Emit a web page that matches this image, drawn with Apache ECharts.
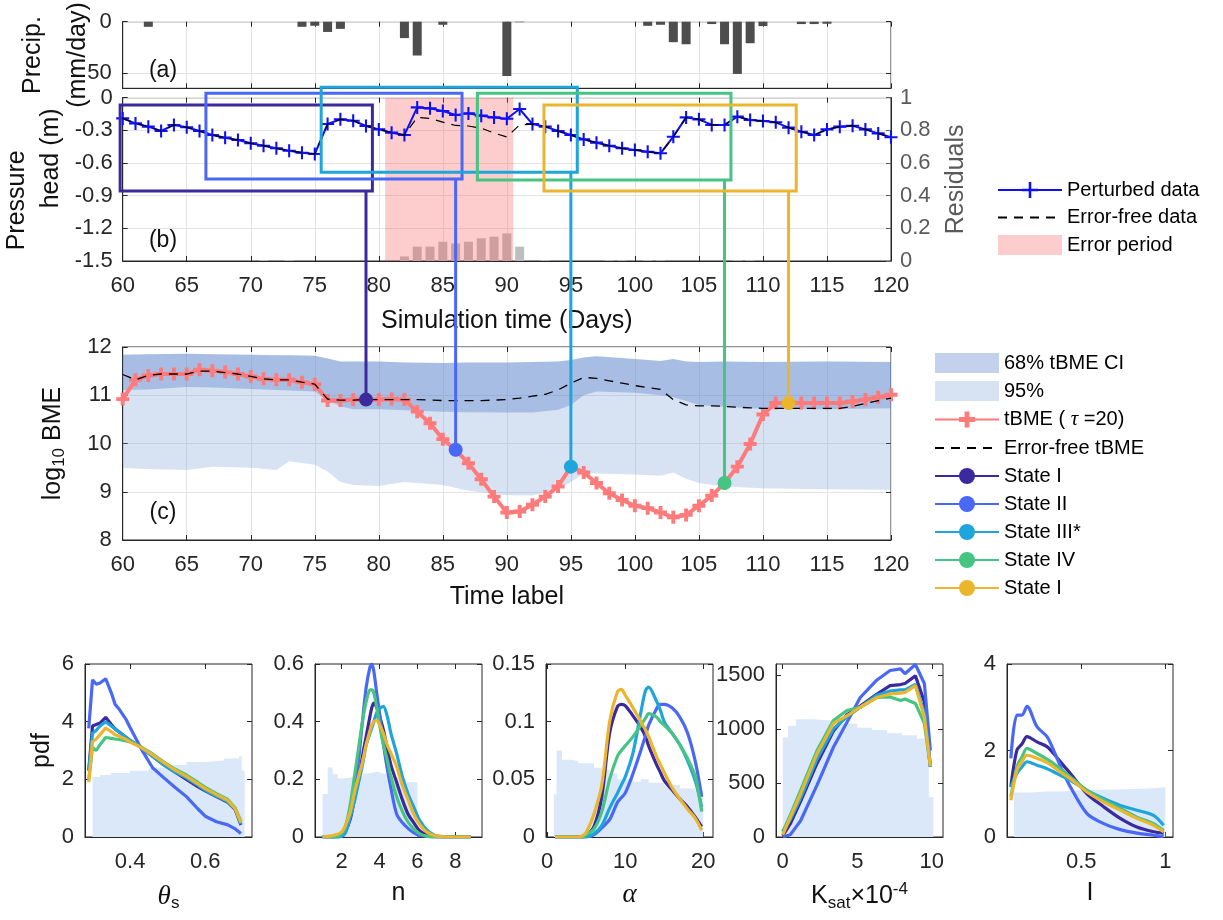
<!DOCTYPE html>
<html><head><meta charset="utf-8">
<script src="https://cdn.jsdelivr.net/npm/echarts@6.0.0/dist/echarts.min.js"></script>
<style>html,body{margin:0;padding:0;background:#fff}#c{width:1223px;height:920px}</style>
</head><body><div id="c"></div>
<script>
// ---------------- DATA ----------------
const days = [60,61,62,63,64,65,66,67,68,69,70,71,72,73,74,75,76,77,78,79,80,81,82,83,84,85,86,87,88,89,90,91,92,93,94,95,96,97,98,99,100,101,102,103,104,105,106,107,108,109,110,111,112,113,114,115,116,117,118,119,120];
const precipDays = [62,74,75,76,77,82,83,85,90,91,101,102,103,104,106,107,108,109,110,113,114,115];
const precipMm   = [5,5,4,10,7,16,33,3,53,0.5,4,3,20,22,2.3,22,51,21,4.3,2.3,2.3,2];
const pressurePerturbed = [-0.19,-0.236,-0.266,-0.306,-0.25,-0.272,-0.306,-0.343,-0.367,-0.389,
  -0.419,-0.441,-0.465,-0.487,-0.505,-0.517,-0.242,-0.199,-0.211,-0.26,
  -0.291,-0.321,-0.343,-0.089,-0.098,-0.122,-0.159,-0.144,-0.165,-0.181,
  -0.193,-0.104,-0.242,-0.266,-0.306,-0.343,-0.383,-0.413,-0.441,-0.465,
  -0.48,-0.496,-0.511,-0.358,-0.181,-0.199,-0.25,-0.25,-0.174,-0.205,
  -0.214,-0.226,-0.275,-0.312,-0.343,-0.291,-0.266,-0.257,-0.291,-0.328,-0.364];
const pressureErrorFree = [-0.19,-0.236,-0.266,-0.306,-0.25,-0.272,-0.306,-0.343,-0.367,-0.389,
  -0.419,-0.441,-0.465,-0.487,-0.505,-0.517,-0.242,-0.199,-0.211,-0.26,
  -0.291,-0.321,-0.343,-0.18,-0.19,-0.225,-0.255,-0.26,-0.28,-0.325,
  -0.36,-0.25,-0.242,-0.266,-0.306,-0.343,-0.383,-0.413,-0.441,-0.465,
  -0.48,-0.496,-0.511,-0.358,-0.181,-0.199,-0.25,-0.25,-0.174,-0.205,
  -0.214,-0.226,-0.275,-0.312,-0.343,-0.291,-0.266,-0.257,-0.291,-0.328,-0.364];
const residualDays = [71,73,82,83,84,85,86,87,88,89,90,91,93,98,99,101,102,108,109];
const residualVals = [0.005,0.005,0.028,0.088,0.088,0.118,0.108,0.118,0.139,0.149,0.169,0.088,0.005,0.005,0.005,0.005,0.005,0.005,0.005];
const errorPeriod = [80.5, 90.5];

const tbmeVals = [10.92,11.32,11.41,11.44,11.44,11.44,11.53,11.51,11.48,11.44,
  11.39,11.34,11.32,11.32,11.27,11.23,10.89,10.89,10.91,10.91,
  10.91,10.92,10.91,10.66,10.42,10.09,9.87,9.59,9.26,8.90,
  8.57,8.59,8.73,8.90,9.11,9.52,9.40,9.18,8.97,8.83,
  8.71,8.66,8.57,8.47,8.52,8.71,8.92,9.18,9.52,9.99,
  10.60,10.84,10.84,10.84,10.84,10.84,10.84,10.87,10.91,10.96,11.01];
const tbmeErrorFree = [11.43,11.32,11.41,11.44,11.44,11.44,11.50,11.50,11.47,11.44,
  11.39,11.34,11.32,11.32,11.27,11.23,10.92,10.90,10.90,10.91,
  10.91,10.91,10.91,10.91,10.90,10.89,10.89,10.89,10.89,10.90,
  10.91,10.94,10.98,11.02,11.11,11.25,11.37,11.35,11.30,11.25,
  11.20,11.16,11.12,10.91,10.80,10.78,10.78,10.77,10.75,10.74,
  10.73,10.73,10.73,10.73,10.73,10.73,10.73,10.77,10.83,10.89,10.94];
const bandDays  = [60,62,65,67,70,72,73,75,76,77,78,80,81,82,85,87,90,92,94,95,96,97,100,102,103,104,105,107,110,115,120];
const ciUpper   = [11.84,11.85,11.86,11.85,11.84,11.83,11.83,11.82,11.76,11.70,11.70,11.70,11.69,11.68,11.67,11.68,11.68,11.69,11.70,11.73,11.78,11.81,11.75,11.71,11.75,11.70,11.69,11.70,11.69,11.70,11.69];
const ci68Lower = [11.11,11.12,11.17,11.16,11.13,11.11,11.10,11.08,10.90,10.77,10.71,10.71,10.70,10.69,10.66,10.65,10.64,10.64,10.70,10.80,11.00,11.08,11.05,11.00,10.96,10.88,10.80,10.76,10.72,10.71,10.73];
const ci95Lower = [9.49,9.47,9.45,9.52,9.50,9.45,9.63,9.56,9.42,9.20,9.14,9.12,9.16,9.20,9.14,9.02,8.93,8.92,9.04,9.20,9.38,9.38,9.36,9.33,9.40,9.27,9.18,9.11,9.07,9.05,9.04];

const stateNames = ['State I','State II','State III*','State IV','State I '];
const stateDays  = [79,86,95,107,112];
const boxStart   = [59.8,66.5,75.5,87.7,92.9];
const boxEnd     = [79.5,86.5,95.5,107.5,112.6];
const boxTop     = [-0.067,0.04,0.095,0.04,-0.067];
const boxBottom  = [-0.857,-0.747,-0.685,-0.756,-0.857];

// posterior pdfs, rows: State I, State II, State III*, State IV, State I (yellow)
const thetaX = [0.29,0.30,0.31,0.32,0.335,0.35,0.36,0.37,0.39,0.40,0.43,0.46,0.49,0.52,0.55,0.58,0.60,0.63,0.66,0.68,0.695];
const thetaPdf = [
  [2.3,3.85,3.9,3.95,4.15,3.9,3.75,3.65,3.45,3.35,3.1,2.8,2.5,2.25,2.0,1.75,1.6,1.4,1.2,0.95,0.42],
  [3.77,5.45,5.3,5.34,5.49,5.0,4.6,4.45,4.06,3.8,3.05,2.4,2.05,1.72,1.40,0.98,0.72,0.53,0.42,0.28,0.12],
  [2.3,3.6,3.7,3.85,4.0,3.85,3.75,3.65,3.45,3.35,3.1,2.8,2.5,2.25,2.05,1.8,1.62,1.42,1.22,0.97,0.45],
  [2.0,3.1,3.0,3.2,3.45,3.42,3.4,3.38,3.33,3.3,3.12,2.88,2.6,2.35,2.15,1.9,1.72,1.5,1.3,1.0,0.55],
  [1.9,3.3,3.4,3.55,3.78,3.65,3.55,3.5,3.38,3.3,3.1,2.85,2.58,2.32,2.1,1.85,1.68,1.47,1.27,0.98,0.5]];
const thetaHistEdges = [0.3,0.32,0.35,0.4,0.45,0.5,0.55,0.6,0.65,0.69,0.697,0.705];
const thetaHist = [2.08,2.15,2.22,2.3,2.4,2.5,2.6,2.65,2.72,2.8,2.3];

const nX = [1.0,1.6,2.0,2.2,2.45,2.7,2.9,3.1,3.3,3.5,3.6,3.7,3.85,4.0,4.2,4.4,4.6,4.9,5.2,5.5,5.8,6.1,6.5,7.0,8.0,8.8];
const nPdf = [
  [0,0,0.005,0.02,0.06,0.14,0.2,0.28,0.35,0.42,0.45,0.464,0.45,0.42,0.372,0.31,0.25,0.19,0.13,0.08,0.05,0.023,0.007,0.001,0,0],
  [0,0,0.003,0.015,0.07,0.17,0.27,0.4,0.52,0.59,0.6,0.575,0.5,0.43,0.325,0.24,0.17,0.08,0.05,0.03,0.015,0.006,0.002,0,0,0],
  [0,0,0.003,0.015,0.07,0.13,0.19,0.25,0.32,0.36,0.38,0.4,0.43,0.445,0.453,0.42,0.36,0.29,0.21,0.15,0.104,0.06,0.025,0.004,0,0],
  [0,0,0.012,0.035,0.11,0.22,0.31,0.4,0.47,0.51,0.51,0.5,0.45,0.39,0.32,0.27,0.21,0.14,0.09,0.052,0.028,0.012,0.003,0,0,0],
  [0,0.006,0.017,0.04,0.085,0.16,0.21,0.26,0.32,0.37,0.39,0.4,0.405,0.39,0.36,0.32,0.29,0.245,0.18,0.13,0.08,0.045,0.017,0.003,0,0]];
const nHistEdges = [1.0,1.27,1.53,1.8,2.06,2.6,3.1,3.4,3.9,4.2,4.5,4.8,5.1,5.4,5.7,6.0];
const nHist = [0.149,0.241,0.218,0.203,0.207,0.21,0.22,0.226,0.22,0.215,0.21,0.205,0.2,0.19,0.19];

const alphaX = [1,2,3,4,4.5,5,6,7,8,9,9.5,10,11,12,12.6,13,14,14.5,15,16,17,18,19,19.8];
const alphaPdf = [
  [0,0,0,0,0,0.001,0.009,0.035,0.09,0.113,0.115,0.114,0.105,0.095,0.087,0.079,0.063,0.056,0.049,0.041,0.033,0.026,0.017,0.009],
  [0,0,0,0,0,0,0.002,0.008,0.015,0.03,0.034,0.038,0.055,0.075,0.088,0.097,0.111,0.115,0.115,0.112,0.104,0.09,0.065,0.035],
  [0,0,0,0,0,0,0.003,0.01,0.025,0.038,0.045,0.052,0.073,0.108,0.127,0.13,0.118,0.11,0.1,0.09,0.08,0.066,0.048,0.026],
  [0,0,0,0,0,0.002,0.007,0.022,0.05,0.07,0.075,0.079,0.087,0.097,0.103,0.107,0.104,0.1,0.097,0.09,0.08,0.068,0.052,0.022],
  [0,0,0,0,0.001,0.004,0.02,0.045,0.1,0.126,0.128,0.123,0.112,0.1,0.093,0.087,0.07,0.063,0.056,0.043,0.033,0.024,0.016,0.006]];
const alphaHistEdges = [0.85,1.2,1.9,3,4,6,7,8,9,11,12,13,15,17,19,20];
const alphaHist = [0.037,0.075,0.067,0.066,0.064,0.06,0.058,0.055,0.05,0.048,0.05,0.047,0.045,0.042,0.04];

const ksatX = [0,0.5,1.2,2.3,3.4,4.3,5.2,6.3,7.2,7.9,8.2,8.9,9.5,9.9];
const ksatPdf = [
  [10,120,330,680,980,1130,1210,1320,1400,1410,1420,1490,1250,650],
  [0,20,150,480,830,1060,1290,1450,1540,1555,1510,1595,1420,800],
  [50,160,360,720,1000,1110,1200,1310,1350,1360,1360,1410,1150,650],
  [46,200,431,800,1077,1170,1200,1290,1295,1262,1277,1235,1050,656],
  [20,180,400,770,1050,1120,1200,1290,1323,1330,1338,1400,1108,656]];
const ksatHistEdges = [0,0.35,0.9,2.0,3.5,5.0,6.0,7.0,8.0,9.0,9.8,10.1];
const ksatHist = [920,1030,1090,1075,1050,1010,990,960,940,910,370];

const lX = [0.081,0.117,0.147,0.177,0.236,0.296,0.335,0.395,0.435,0.534,0.633,0.732,0.831,0.93,0.99];
const lPdf = [
  [1.16,2.01,2.15,2.32,2.2,2.09,1.93,1.65,1.47,1.0,0.7,0.43,0.23,0.12,0.09],
  [1.82,2.82,2.82,3.02,2.55,2.32,2.01,1.47,1.16,0.54,0.31,0.17,0.09,0.04,0.01],
  [1.16,1.47,1.62,1.74,1.66,1.58,1.51,1.39,1.31,1.08,0.89,0.73,0.62,0.5,0.27],
  [0.93,1.62,1.85,2.05,1.93,1.8,1.70,1.52,1.39,1.08,0.85,0.66,0.46,0.31,0.15],
  [0.85,1.55,1.75,1.89,1.82,1.72,1.62,1.45,1.35,1.04,0.81,0.62,0.43,0.27,0.12]];
const lHistEdges = [0.1,0.2,0.3,0.4,0.5,0.6,0.7,0.8,0.9,1.0];
const lHist = [1.03,1.05,1.06,1.08,1.09,1.1,1.11,1.12,1.15];

const xTicksTheta = [0.4,0.6], xTicksN = [2,4,6,8], xTicksAlpha = [0,10,20], xTicksKsat = [0,5,10], xTicksL = [0.5,1];
const yTicksTheta = [0,2,4,6], yTicksN = [0,0.2,0.4,0.6], yTicksAlpha = [0,0.05,0.1,0.15], yTicksKsat = [0,500,1000,1500], yTicksL = [0,2,4];

// ---------------- STYLE ----------------
const FONT = '"Liberation Sans", Arial, Helvetica, sans-serif';
const SERIF = '"Liberation Serif", "DejaVu Serif", serif';
const AXC = '#262626';
const GRIDC = '#e3e3e3';
const stateColors = ['#3b2a9e', '#4868f5', '#1ea5dc', '#46c482', '#ebb62d'];
const CROSS_THIN = 'path://M-1.6,-10L1.6,-10L1.6,-1.6L10,-1.6L10,1.6L1.6,1.6L1.6,10L-1.6,10L-1.6,1.6L-10,1.6L-10,-1.6L-1.6,-1.6Z';
const CROSS_THICK = 'path://M-3,-10L3,-10L3,-3L10,-3L10,3L3,3L3,10L-3,10L-3,3L-10,3L-10,-3L-3,-3Z';
const tbmeName = 'tBME ( τ =20)';
const c68 = 'rgba(69,113,195,0.32)';
const c95 = 'rgba(110,150,210,0.28)';
const pinkC = 'rgba(248,85,85,0.3)';
const histC = '#dbe8fa';
const plainNum = v => String(v);

const chart = echarts.init(document.getElementById('c'), null, {renderer: 'canvas'});

const gridBase = {show: true, borderColor: AXC, borderWidth: 1, backgroundColor: 'transparent', containLabel: false, outerBoundsMode: 'none'};
const grids = [
  {left: 122.7, top: 21.7, width: 768.3, height: 66.6},
  {left: 122.7, top: 97.7, width: 768.3, height: 163.3},
  {left: 122.7, top: 347, width: 768.3, height: 193},
  {left: 85, top: 664, width: 167, height: 173},
  {left: 315, top: 664, width: 167, height: 173},
  {left: 546, top: 664, width: 167, height: 173},
  {left: 776, top: 664, width: 167, height: 173},
  {left: 1007, top: 664, width: 166, height: 173}
].map(g => Object.assign({}, gridBase, g));

const tick = {show: true, inside: true, length: 5, lineStyle: {color: AXC, width: 1}};
const lbl = {color: AXC, fontSize: 22, fontFamily: FONT, formatter: plainNum};
const split = {show: true, lineStyle: {color: GRIDC, width: 1}};
const nameStyle = {color: '#111', fontSize: 25, fontFamily: FONT};

function ax(o) {
  return Object.assign({
    type: 'value',
    nameMoveOverlap: false,
    axisLine: {show: true, onZero: false, lineStyle: {color: AXC, width: 1}},
    axisTick: tick,
    axisLabel: Object.assign({}, lbl, {margin: 14}),
    splitLine: {show: false},
    nameTextStyle: nameStyle
  }, o);
}
function mirror(o) {
  return Object.assign({
    type: 'value',
    axisLine: {show: false, onZero: false},
    axisTick: tick,
    axisLabel: {show: false},
    splitLine: {show: false}
  }, o);
}

const xAxes = [
  ax({gridIndex: 0, min: 60, max: 120, interval: 5, axisLabel: {show: false}, splitLine: split}),
  ax({gridIndex: 1, min: 60, max: 120, interval: 5, splitLine: split,
      name: 'Simulation time (Days)', nameLocation: 'middle', nameGap: 48}),
  ax({gridIndex: 2, min: 60, max: 120, interval: 5, splitLine: split,
      name: 'Time label', nameLocation: 'middle', nameGap: 45}),
];
const yAxes = [
  ax({gridIndex: 0, min: 0, max: 65, inverse: true, interval: 50, splitLine: split,
      axisLabel: Object.assign({}, lbl, {margin: 11, customValues: [0, 50]}),
      axisTick: Object.assign({}, tick, {customValues: [0, 50]}),
      name: 'Precip.\n(mm/day)', nameLocation: 'middle', nameGap: 22,
      nameTextStyle: Object.assign({}, nameStyle, {lineHeight: 45})}),
  ax({gridIndex: 1, min: -1.5, max: 0, interval: 0.3, splitLine: split,
      axisLabel: Object.assign({}, lbl, {margin: 10}),
      name: '{p|Pressure}\n{h|head (m)}', nameLocation: 'middle', nameGap: 55,
      nameTextStyle: Object.assign({}, nameStyle, {lineHeight: 34, rich: {
        p: {fontSize: 25, fontFamily: FONT, color: '#111', lineHeight: 34, padding: [0, 42, 0, 0]},
        h: {fontSize: 25, fontFamily: FONT, color: '#111', lineHeight: 34, padding: [0, 0, 0, 42]}}})}),
  ax({gridIndex: 1, position: 'right', min: 0, max: 1, interval: 0.2,
      axisLine: {show: true, onZero: false, lineStyle: {color: AXC}},
      axisTick: Object.assign({}, tick, {lineStyle: {color: '#606060'}}),
      axisLabel: Object.assign({}, lbl, {color: '#5a5a5a', margin: 9}),
      name: 'Residuals', nameLocation: 'middle', nameGap: 53, nameRotate: 90,
      nameTextStyle: Object.assign({}, nameStyle, {color: '#5a5a5a'})}),
  ax({gridIndex: 2, min: 8, max: 12, interval: 1, splitLine: split,
      axisLabel: Object.assign({}, lbl, {margin: 11}),
      name: '{a|log}{b|10}{a| BME}', nameLocation: 'middle', nameGap: 55,
      nameTextStyle: Object.assign({}, nameStyle, {rich: {
        a: {fontSize: 25, fontFamily: FONT, color: '#111'},
        b: {fontSize: 17, fontFamily: FONT, color: '#111', padding: [12, 0, 0, 0]}}})}),
];

const pdfPanels = [
  {x: thetaX, ys: thetaPdf, edges: thetaHistEdges, hist: thetaHist, min: 0.28, max: 0.7245, xt: xTicksTheta, ymax: 6, yt: yTicksTheta,
   name: '{i|θ}{s|s}'},
  {x: nX, ys: nPdf, edges: nHistEdges, hist: nHist, min: 0.6, max: 9.4, xt: xTicksN, ymax: 0.6, yt: yTicksN, name: 'n'},
  {x: alphaX, ys: alphaPdf, edges: alphaHistEdges, hist: alphaHist, min: -0.15, max: 21.25, xt: xTicksAlpha, ymax: 0.15, yt: yTicksAlpha,
   name: '{i|α}'},
  {x: ksatX, ys: ksatPdf, edges: ksatHistEdges, hist: ksatHist, min: -0.45, max: 10.75, xt: xTicksKsat, ymax: 1600, yt: yTicksKsat,
   name: '{a|K}{s|sat}{a|×10}{p|-4}'},
  {x: lX, ys: lPdf, edges: lHistEdges, hist: lHist, min: 0.058, max: 1.046, xt: xTicksL, ymax: 4, yt: yTicksL, name: 'I'},
];
const richName = {
  a: {fontSize: 25, fontFamily: FONT, color: '#111'},
  i: {fontSize: 27, fontFamily: SERIF, fontStyle: 'italic', color: '#111'},
  s: {fontSize: 17, fontFamily: FONT, color: '#111', padding: [14, 0, 0, 0]},
  p: {fontSize: 17, fontFamily: FONT, color: '#111', padding: [0, 0, 14, 0]}
};

pdfPanels.forEach((p, k) => {
  const g = 3 + k;
  xAxes.push(ax({gridIndex: g, min: p.min, max: p.max,
    axisLabel: Object.assign({}, lbl, {margin: 14, customValues: p.xt}),
    axisTick: Object.assign({}, tick, {customValues: p.xt}),
    name: p.name, nameLocation: 'middle', nameGap: 44,
    nameTextStyle: Object.assign({}, nameStyle, {rich: richName})}));
  const yo = {gridIndex: g, min: 0, max: p.ymax,
    axisLabel: Object.assign({}, lbl, {margin: 11, customValues: p.yt}),
    axisTick: Object.assign({}, tick, {customValues: p.yt})};
  if (k === 0) Object.assign(yo, {name: 'pdf', nameLocation: 'middle', nameGap: 30});
  yAxes.push(ax(yo));
});
// mirror ticks (box)
[0, 1, 2].forEach(g => xAxes.push(mirror({gridIndex: g, position: 'top', min: 60, max: 120, interval: 5})));
pdfPanels.forEach((p, k) => xAxes.push(mirror({gridIndex: 3 + k, position: 'top', min: p.min, max: p.max,
  axisTick: Object.assign({}, tick, {customValues: p.xt})})));
yAxes.push(mirror({gridIndex: 0, position: 'right', min: 0, max: 65, inverse: true,
  axisTick: Object.assign({}, tick, {customValues: [0, 50]})}));
yAxes.push(mirror({gridIndex: 2, position: 'right', min: 8, max: 12, interval: 1}));
pdfPanels.forEach((p, k) => yAxes.push(mirror({gridIndex: 3 + k, position: 'right', min: 0, max: p.ymax,
  axisTick: Object.assign({}, tick, {customValues: p.yt})})));

// ---------------- SERIES ----------------
const series = [];
series.push({type: 'bar', name: 'precip', xAxisIndex: 0, yAxisIndex: 0, barWidth: 9,
  data: precipDays.map((d, i) => [d, precipMm[i]]), itemStyle: {color: '#4d4d4d'}, silent: true});
series.push({type: 'bar', name: 'residuals', xAxisIndex: 1, yAxisIndex: 2, barWidth: 9, z: 1,
  data: residualDays.map((d, i) => [d, residualVals[i]]), itemStyle: {color: '#bdbdbd'}, silent: true});
series.push({type: 'custom', name: 'Error period', xAxisIndex: 1, yAxisIndex: 1, z: 2,
  itemStyle: {color: pinkC},
  data: [[errorPeriod[0], errorPeriod[1]]],
  encode: {x: [0, 1]},
  renderItem: (params, api) => {
    const cs = params.coordSys;
    const a = api.coord([api.value(0), 0]);
    const b = api.coord([api.value(1), 0]);
    return {type: 'rect', shape: {x: a[0], y: cs.y, width: b[0] - a[0], height: cs.height}, style: {fill: pinkC}};
  }});
series.push({type: 'line', name: 'Perturbed data', xAxisIndex: 1, yAxisIndex: 1, z: 4,
  data: days.map((d, i) => [d, pressurePerturbed[i]]),
  symbol: CROSS_THIN, symbolSize: 13, showSymbol: true,
  itemStyle: {color: '#1010f5'}, lineStyle: {color: '#1010f5', width: 2}});
series.push({type: 'line', name: 'Error-free data', xAxisIndex: 1, yAxisIndex: 1, z: 5,
  data: days.map((d, i) => [d, pressureErrorFree[i]]),
  symbol: 'none', showSymbol: false,
  itemStyle: {color: '#000'}, lineStyle: {color: '#000', width: 1.2, type: [9, 7]}});

function band(name, lower, color, z) {
  return {type: 'custom', name, xAxisIndex: 2, yAxisIndex: 3, z,
    itemStyle: {color},
    data: bandDays.map((d, i) => [d, lower[i], ciUpper[i]]),
    encode: {x: 0, y: [1, 2]},
    renderItem: (params, api) => {
      if (params.dataIndex !== 0) return null;
      const pts = [];
      for (let i = 0; i < bandDays.length; i++) pts.push(api.coord([bandDays[i], ciUpper[i]]));
      for (let i = bandDays.length - 1; i >= 0; i--) pts.push(api.coord([bandDays[i], lower[i]]));
      return {type: 'polygon', shape: {points: pts}, style: {fill: color}};
    }};
}
series.push(band('95%', ci95Lower, c95, 1));
series.push(band('68% tBME CI', ci68Lower, c68, 2));
series.push({type: 'line', name: tbmeName, xAxisIndex: 2, yAxisIndex: 3, z: 4,
  data: days.map((d, i) => [d, tbmeVals[i]]),
  symbol: CROSS_THICK, symbolSize: 13, showSymbol: true,
  itemStyle: {color: '#ff7a7a'}, lineStyle: {color: '#ff7a7a', width: 4}});
series.push({type: 'line', name: 'Error-free tBME', xAxisIndex: 2, yAxisIndex: 3, z: 5,
  data: days.map((d, i) => [d, tbmeErrorFree[i]]),
  symbol: 'none', showSymbol: false,
  itemStyle: {color: '#000'}, lineStyle: {color: '#000', width: 1.3, type: [9, 7]}});
stateNames.forEach((nm, k) => {
  series.push({type: 'line', name: nm, xAxisIndex: 2, yAxisIndex: 3, z: 8,
    data: [[stateDays[k], tbmeVals[days.indexOf(stateDays[k])]]],
    symbol: 'circle', symbolSize: 14, showSymbol: true,
    itemStyle: {color: stateColors[k]}, lineStyle: {color: stateColors[k], width: 1.5}});
});

pdfPanels.forEach((p, k) => {
  const g = 3 + k;
  const hd = p.edges.slice(0, -1).map((e, i) => [e, p.hist[i]]);
  hd.push([p.edges[p.edges.length - 1], p.hist[p.hist.length - 1]]);
  series.push({type: 'line', name: 'prior' + k, xAxisIndex: g, yAxisIndex: g + 1, z: 1, step: 'end',
    data: hd, symbol: 'none', lineStyle: {width: 0, opacity: 0}, areaStyle: {color: histC, opacity: 1}, silent: true});
  p.ys.forEach((ys, s) => {
    series.push({type: 'line', name: 'pdf' + k + '_' + s, xAxisIndex: g, yAxisIndex: g + 1, z: 3 + s,
      data: p.x.map((x, i) => [x, ys[i]]), symbol: 'none', smooth: (k === 0 || k === 3) ? false : 0.3,
      lineStyle: {color: stateColors[s], width: 3.2}, silent: true});
  });
});

const hiddenMark = {color: 'rgba(0,0,0,0)', borderColor: 'rgba(0,0,0,0)', borderWidth: 0, opacity: 0};
const option = {
  animation: false,
  textStyle: {fontFamily: FONT},
  grid: grids,
  xAxis: xAxes,
  yAxis: yAxes,
  legend: [
    {data: ['Perturbed data', {name: 'Error-free data', itemStyle: hiddenMark}, {name: 'Error period', icon: 'rect'}],
     orient: 'vertical', left: 992, top: 175, padding: 5, itemWidth: 64, itemHeight: 20, itemGap: 7.5,
     selectedMode: false, textStyle: {fontSize: 20, color: '#000', fontFamily: FONT}},
    {data: [{name: '68% tBME CI', icon: 'rect'}, {name: '95%', icon: 'rect'}, tbmeName,
            {name: 'Error-free tBME', itemStyle: hiddenMark}].concat(stateNames),
     orient: 'vertical', left: 929, top: 348, padding: 5, itemWidth: 64, itemHeight: 20, itemGap: 8,
     selectedMode: false,
     formatter: n => n === tbmeName ? '{r|tBME ( }{g|τ}{r| =20)}' : n,
     textStyle: {fontSize: 20, color: '#000', fontFamily: FONT,
       rich: {r: {fontSize: 20, color: '#000', fontFamily: FONT}, g: {fontSize: 21, color: '#000', fontFamily: SERIF, fontStyle: 'italic'}}}}
  ],
  series
};
chart.setOption(option);

// boxes, connectors and panel tags positioned through the axes
function overlay() {
  const els = [];
  for (let k = 0; k < stateNames.length; k++) {
    const p1 = chart.convertToPixel({xAxisIndex: 1, yAxisIndex: 1}, [boxStart[k], boxTop[k]]);
    const p2 = chart.convertToPixel({xAxisIndex: 1, yAxisIndex: 1}, [boxEnd[k], boxBottom[k]]);
    els.push({type: 'rect', z: 50, silent: true,
      shape: {x: p1[0], y: p1[1], width: p2[0] - p1[0], height: p2[1] - p1[1]},
      style: {fill: 'none', stroke: stateColors[k], lineWidth: 3}});
    const top = chart.convertToPixel({xAxisIndex: 1, yAxisIndex: 1}, [stateDays[k], boxBottom[k]]);
    const bot = chart.convertToPixel({xAxisIndex: 2, yAxisIndex: 3}, [stateDays[k], tbmeVals[days.indexOf(stateDays[k])]]);
    els.push({type: 'line', z: 49, silent: true,
      shape: {x1: top[0], y1: top[1], x2: bot[0], y2: bot[1]},
      style: {stroke: stateColors[k], lineWidth: 3}});
  }
  [['(a)', 163, 71], ['(b)', 163, 241], ['(c)', 163, 513]].forEach(t => {
    els.push({type: 'text', z: 60, silent: true, x: t[1], y: t[2],
      style: {text: t[0], fill: '#111', font: '23px ' + FONT, textAlign: 'center', textVerticalAlign: 'middle'}});
  });
  chart.setOption({graphic: els});
}
overlay();
</script></body></html>
